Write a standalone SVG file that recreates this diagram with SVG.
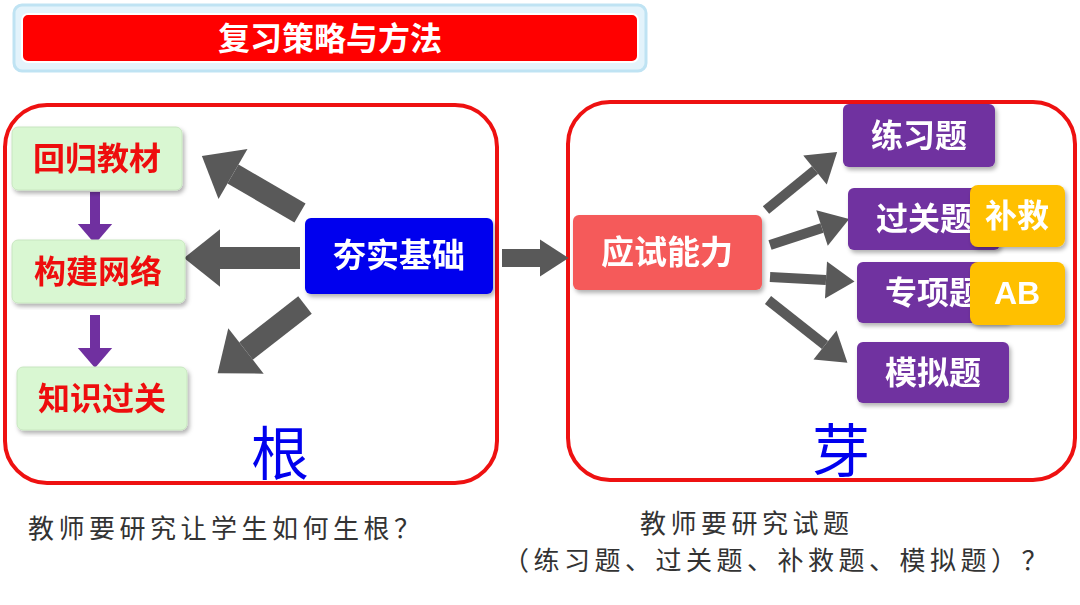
<svg xmlns="http://www.w3.org/2000/svg" width="1080" height="605" viewBox="0 0 1080 605">
<style>
.cn{font-family:"Liberation Sans","Noto Sans CJK SC",sans-serif;font-weight:bold}
.g{fill:#d9f7d2;stroke:#c8e6c0}
.gt{fill:#ee1111;font-size:32px}
.p{fill:#7030a0}
.pt{fill:#fff;font-size:32px}
.y{fill:#ffc000}
.ser{font-family:"Noto Sans CJK SC",serif;fill:#333;font-size:26px;letter-spacing:4.5px}
</style>
<defs>
<marker id="big" markerUnits="userSpaceOnUse" markerWidth="60" markerHeight="60" viewBox="0 -25 32 50" refX="0" refY="0" orient="auto" overflow="visible"><path d="M0,-24 L30,0 L0,24 z" fill="#595959"/></marker>
<marker id="sm" markerUnits="userSpaceOnUse" markerWidth="40" markerHeight="40" viewBox="0 -14 22 28" refX="0" refY="0" orient="auto" overflow="visible"><path d="M0,-13 L20,0 L0,13 z" fill="#595959"/></marker>
<marker id="pu" markerUnits="userSpaceOnUse" markerWidth="40" markerHeight="40" viewBox="0 -14 16 28" refX="0" refY="0" orient="auto" overflow="visible"><path d="M0,-12 L14,0 L0,12 z" fill="#7030a0"/></marker>
<filter id="sh"><feDropShadow dx="2" dy="3" stdDeviation="2" flood-opacity="0.3"/></filter>
</defs>
<rect width="1080" height="605" fill="#fff"/>
<g id="title">
<rect x="14" y="5" width="632" height="66" rx="8" fill="#e3f3fb" stroke="#bfe3f3" stroke-width="3"/>
<rect x="22" y="14" width="616" height="48" rx="6" fill="#ff0000" stroke="#fff" stroke-width="2"/>
<text x="330" y="50" text-anchor="middle" class="cn" fill="#fff" font-size="32">复习策略与方法</text>
</g>
<g id="leftframe"><rect x="5" y="105" width="492" height="378" rx="42" fill="none" stroke="#ee1111" stroke-width="4"/></g>
<g id="rightframe"><rect x="568" y="102" width="507" height="378" rx="42" fill="none" stroke="#ee1111" stroke-width="4"/></g>
<g id="connectors">
<line x1="95" y1="192" x2="95" y2="224" stroke="#7030a0" stroke-width="10" marker-end="url(#pu)"/>
<line x1="95" y1="315" x2="95" y2="348" stroke="#7030a0" stroke-width="10" marker-end="url(#pu)"/>
<line x1="300" y1="213" x2="233" y2="174" stroke="#595959" stroke-width="22" marker-end="url(#big)"/>
<line x1="300" y1="258" x2="220" y2="258" stroke="#595959" stroke-width="22" marker-end="url(#big)"/>
<line x1="305" y1="305" x2="246" y2="351" stroke="#595959" stroke-width="22" marker-end="url(#big)"/>
<line x1="502" y1="258" x2="540" y2="258" stroke="#595959" stroke-width="18" marker-end="url(#sm)"/>
<line x1="766" y1="210" x2="815" y2="170" stroke="#595959" stroke-width="10" marker-end="url(#sm)"/>
<line x1="770" y1="245" x2="822" y2="228" stroke="#595959" stroke-width="10" marker-end="url(#sm)"/>
<line x1="770" y1="277" x2="826" y2="280" stroke="#595959" stroke-width="10" marker-end="url(#sm)"/>
<line x1="768" y1="300" x2="825" y2="345" stroke="#595959" stroke-width="10" marker-end="url(#sm)"/>
</g>
<g id="n1" filter="url(#sh)"><rect x="12" y="127" width="170" height="63" rx="6" class="g"/><text x="97" y="170" text-anchor="middle" class="cn gt">回归教材</text></g>
<g id="n2" filter="url(#sh)"><rect x="12" y="240" width="173" height="63" rx="6" class="g"/><text x="98" y="283" text-anchor="middle" class="cn gt">构建网络</text></g>
<g id="n3" filter="url(#sh)"><rect x="17" y="367" width="170" height="63" rx="6" class="g"/><text x="102" y="410" text-anchor="middle" class="cn gt">知识过关</text></g>
<g id="n4" filter="url(#sh)"><rect x="305" y="218" width="188" height="76" rx="6" fill="#0000ee"/><text x="399" y="267" text-anchor="middle" class="cn" fill="#fff" font-size="33">夯实基础</text></g>
<g id="n5" filter="url(#sh)"><rect x="573" y="215" width="189" height="75" rx="6" fill="#f55a5a"/><text x="667" y="264" text-anchor="middle" class="cn" fill="#fff" font-size="33">应试能力</text></g>
<g id="n6" filter="url(#sh)"><rect x="843" y="104" width="152" height="63" rx="6" class="p"/><text x="919" y="147" text-anchor="middle" class="cn pt">练习题</text></g>
<g id="n7" filter="url(#sh)"><rect x="848" y="188" width="152" height="62" rx="6" class="p"/><text x="924" y="230" text-anchor="middle" class="cn pt">过关题</text></g>
<g id="n8" filter="url(#sh)"><rect x="857" y="262" width="153" height="61" rx="6" class="p"/><text x="933" y="304" text-anchor="middle" class="cn pt">专项题</text></g>
<g id="n9" filter="url(#sh)"><rect x="857" y="342" width="152" height="61" rx="6" class="p"/><text x="933" y="384" text-anchor="middle" class="cn pt">模拟题</text></g>
<g id="n10" filter="url(#sh)"><rect x="970" y="185" width="95" height="62" rx="8" class="y"/><text x="1017" y="227" text-anchor="middle" class="cn pt">补救</text></g>
<g id="n11" filter="url(#sh)"><rect x="970" y="262" width="95" height="63" rx="8" class="y"/><text x="1017" y="304" text-anchor="middle" class="cn pt">AB</text></g>
<text x="280" y="475" text-anchor="middle" font-family="Noto Sans CJK SC,serif" font-size="58" fill="#0000ee">根</text>
<text x="841" y="472" text-anchor="middle" font-family="Noto Sans CJK SC,serif" font-size="58" fill="#0000ee">芽</text>
<text x="28" y="538" class="ser">教师要研究让学生如何生根？</text>
<text x="640" y="533" class="ser">教师要研究试题</text>
<text x="503" y="570" class="ser">（练习题、过关题、补救题、模拟题）？</text>
</svg>
